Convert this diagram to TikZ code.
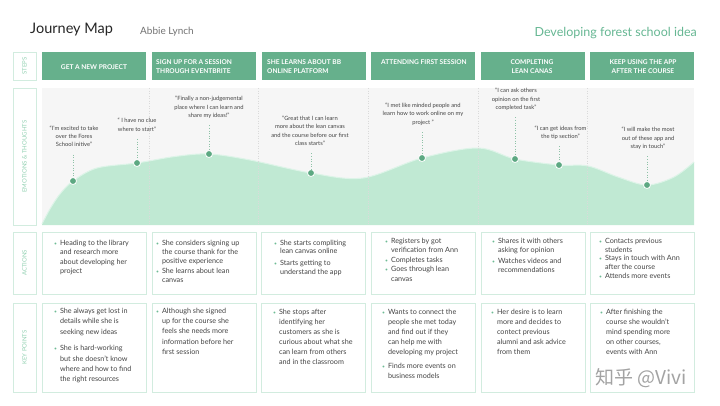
\documentclass[tikz,border=0pt]{standalone}
\usepackage{fontspec}
\setmainfont{Lato}
\newfontfamily\cjk{Noto Sans CJK SC}
\usepackage{graphicx}
\definecolor{stepg}{HTML}{66B08C}
\definecolor{panel}{HTML}{F6F6F6}
\definecolor{crvfill}{HTML}{C0E9D3}
\definecolor{crvline}{HTML}{DDF4E8}
\definecolor{dotc}{HTML}{5DA882}
\definecolor{brd}{HTML}{D2ECDF}
\definecolor{lbltxt}{HTML}{92D1B2}
\definecolor{txt}{HTML}{444444}
\definecolor{bulc}{HTML}{6DBB94}
\definecolor{subc}{HTML}{66B793}
\definecolor{divc}{HTML}{DADADA}
\newcommand\bl{\textcolor{bulc}{\fontsize{5}{5}\selectfont\textbullet}}
\newcommand\bt[1]{\begin{tabular}[t]{@{}l@{\hspace{3pt}}l@{}}#1\end{tabular}}
\tikzset{
  lblbox/.style={draw=brd, line width=0.6pt, fill=white, minimum width=23pt, inner sep=0},
  lbltext/.style={rotate=90, text=lbltxt, font=\fontsize{6}{7}\selectfont, inner sep=0},
  stepbox/.style={fill=stepg, minimum width=104pt, minimum height=28pt, inner sep=0},
  steptext/.style={text=white, font=\fontsize{6.6}{9}\selectfont\bfseries, inner sep=0},
  cellbox/.style={draw=brd, line width=0.6pt, fill=white, minimum width=104pt, inner sep=0},
  celltext/.style={anchor=base west, inner sep=0, text=txt, font=\fontsize{7.2}{#1}\selectfont},
  quote/.style={anchor=base, inner sep=0, text=txt, font=\fontsize{5.8}{8.4}\selectfont},
  emodot/.style={circle, fill=dotc, draw=white, line width=0.8pt, minimum size=7pt, inner sep=0},
  conn/.style={draw=dotc!70, dotted, line width=0.6pt, shorten <=5pt},
}
\begin{document}
\begin{tikzpicture}[x=1pt,y=-1pt]
\useasboundingbox (0,0) rectangle (720,405);
\fill[white] (0,0) rectangle (720,405);

% titles
\node[anchor=base west, inner sep=0, text=black!85, font=\fontsize{14.5}{16}\selectfont] (title) at (30,33) {Journey Map};
\node[anchor=base west, inner sep=0, text=black!55, font=\fontsize{10}{12}\selectfont] (author) at (140,34) {Abbie Lynch};
\node[anchor=base east, inner sep=0, text=subc, font=\fontsize{12.5}{14}\selectfont] (sub) at (697,36.5) {Developing forest school idea};

% row labels
\node[lblbox, minimum height=28pt] (Ls) at (24.5,66) {};
\node[lbltext] (Lst) at (Ls.center) {STEPS};
\node[lblbox, minimum height=137pt] (Le) at (24.5,156.5) {};
\node[lbltext] (Let) at (Le.center) {EMOTIONS \& THOUGHTS};
\node[lblbox, minimum height=62pt] (La) at (24.5,263) {};
\node[lbltext] (Lat) at (La.center) {ACTIONS};
\node[lblbox, minimum height=89pt] (Lk) at (24.5,347.5) {};
\node[lbltext] (Lkt) at (Lk.center) {KEY POINTS};

% steps
\node[stepbox] (s1) at (94,66) {};
\node[stepbox] (s2) at (204,66) {};
\node[stepbox] (s3) at (313.5,66) {};
\node[stepbox] (s4) at (423,66) {};
\node[stepbox] (s5) at (533,66) {};
\node[stepbox] (s6) at (642,66) {};
\node[steptext, anchor=base] (st1) at (94,69.5) {GET A NEW PROJECT};
\node[steptext, anchor=base west, align=left] (st2) at (156,64) {\begin{tabular}[t]{@{}l@{}}SIGN UP FOR A SESSION\\THROUGH EVENTBRITE\end{tabular}};
\node[steptext, anchor=base west, align=left] (st3) at (267,64) {\begin{tabular}[t]{@{}l@{}}SHE LEARNS ABOUT BB\\ONLINE PLATFORM\end{tabular}};
\node[steptext, anchor=base west] (st4) at (381,64) {ATTENDING FIRST SESSION};
\node[steptext, anchor=base] (st5) at (532,64) {\begin{tabular}[t]{@{}c@{}}COMPLETING\\LEAN CANAS\end{tabular}};
\node[steptext, anchor=base] (st6) at (643,64) {\begin{tabular}[t]{@{}c@{}}KEEP USING THE APP\\AFTER THE COURSE\end{tabular}};

% emotions panel
\fill[panel] (42,88) rectangle (694,225);
\coordinate (d1c) at (73,181);
\coordinate (d2c) at (137,163);
\coordinate (d3c) at (209,154);
\coordinate (d4c) at (311,173);
\coordinate (d5c) at (422,158);
\coordinate (d6c) at (515,159);
\coordinate (d7c) at (559,165);
\coordinate (d8c) at (647,185);
\fill[crvfill] (42,225) -- plot[smooth, tension=0.55] coordinates {(42,224) (50,209) (60,194) (d1c) (97,168) (d2c) (175,156.5) (d3c) (250,160) (d4c) (363,178) (d5c) (478,148) (d6c) (d7c) (588,166) (618,177) (d8c) (674,177) (694,162)} -- (694,225) -- cycle;
\draw[crvline, line width=1pt] plot[smooth, tension=0.55] coordinates {(42,224) (50,209) (60,194) (d1c) (97,168) (d2c) (175,156.5) (d3c) (250,160) (d4c) (363,178) (d5c) (478,148) (d6c) (d7c) (588,166) (618,177) (d8c) (674,177) (694,162)};
\foreach \x in {149,258.5,368.5,478,587.5} \draw[divc, dotted, line width=0.5pt] (\x,88) -- (\x,225);

\node[emodot] (d1) at (d1c) {};
\node[emodot] (d2) at (d2c) {};
\node[emodot] (d3) at (d3c) {};
\node[emodot] (d4) at (d4c) {};
\node[emodot] (d5) at (d5c) {};
\node[emodot] (d6) at (d6c) {};
\node[emodot] (d7) at (d7c) {};
\node[emodot] (d8) at (d8c) {};

\node[quote] (q1) at (74,130.1) {\begin{tabular}[t]{@{}c@{}}“I'm excited to take\\over the Fores\\School initive”\end{tabular}};
\node[quote] (q2) at (137,122.8) {\begin{tabular}[t]{@{}c@{}}“ I have no clue\\where to start”\end{tabular}};
\node[quote] (q3) at (209,100.8) {\begin{tabular}[t]{@{}c@{}}“Finally a non-judgemental\\place where I can learn and\\share my ideas!”\end{tabular}};
\node[quote] (q4) at (310,120.5) {\begin{tabular}[t]{@{}c@{}}“Great that I can learn\\more about the lean canvas\\and the course before our first\\class starts”\end{tabular}};
\node[quote] (q5) at (423,107.5) {\begin{tabular}[t]{@{}c@{}}“I met like minded people and\\learn how to work online on my\\project ”\end{tabular}};
\node[quote] (q6) at (516,92.8) {\begin{tabular}[t]{@{}c@{}}“I can ask others\\opinion on the first\\completed task”\end{tabular}};
\node[quote] (q7) at (560.5,130.1) {\begin{tabular}[t]{@{}c@{}}“I can get ideas from\\the tip section”\end{tabular}};
\node[quote] (q8) at (648,131.8) {\begin{tabular}[t]{@{}c@{}}“I will make the most\\out of these app and\\stay in touch”\end{tabular}};

\draw[conn] (q1.south -| d1) -- (d1);
\draw[conn] (q2.south -| d2) -- (d2);
\draw[conn] (q3.south -| d3) -- (d3);
\draw[conn] (q4.south -| d4) -- (d4);
\draw[conn] (q5.south -| d5) -- (d5);
\draw[conn] (q6.south -| d6) -- (d6);
\draw[conn] (q7.south -| d7) -- (d7);
\draw[conn] (q8.south -| d8) -- (d8);

% actions
\node[cellbox, minimum height=62pt] (a1) at (94,263) {};
\node[cellbox, minimum height=62pt] (a2) at (204,263) {};
\node[cellbox, minimum height=62pt] (a3) at (313.5,263) {};
\node[cellbox, minimum height=62pt] (a4) at (423,263) {};
\node[cellbox, minimum height=62pt] (a5) at (533,263) {};
\node[cellbox, minimum height=62pt] (a6) at (642,263) {};
\node[celltext=9.5] (ta1) at (54,245) {\bt{\bl & Heading to the library\\ & and research more\\ & about developing her\\ & project}};
\node[celltext=9.4] (ta2) at (156,245) {\bt{\bl & She considers signing up\\ & the course thank for the\\ & positive experience\\ \bl & She learns about lean\\ & canvas}};
\node[celltext=8.7] (ta3) at (274,245) {\bt{\bl & She starts compliting\\ & lean canvas online\\[3.3pt] \bl & Starts getting to\\ & understand the app}};
\node[celltext=9.4] (ta4) at (385,243.5) {\bt{\bl & Registers by got\\ & verification from Ann\\ \bl & Completes tasks\\ \bl & Goes through lean\\ & canvas}};
\node[celltext=8.5] (ta5) at (492,243.5) {\bt{\bl & Shares it with others\\ & asking for opinion\\[3.3pt] \bl & Watches videos and\\ & recommendations}};
\node[celltext=8.7] (ta6) at (599,243.5) {\bt{\bl & Contacts previous\\ & students\\ \bl & Stays in touch with Ann\\ & after the course\\ \bl & Attends more events}};

% key points
\node[cellbox, minimum height=89pt] (k1) at (94,347.5) {};
\node[cellbox, minimum height=89pt] (k2) at (204,347.5) {};
\node[cellbox, minimum height=89pt] (k3) at (313.5,347.5) {};
\node[cellbox, minimum height=89pt] (k4) at (423,347.5) {};
\node[cellbox, minimum height=89pt] (k5) at (533,347.5) {};
\node[cellbox, minimum height=89pt] (k6) at (642,347.5) {};
\node[celltext=10.3] (tk1) at (54,313.5) {\bt{\bl & She always get lost in\\ & details while she is\\ & seeking new ideas\\[6.4pt] \bl & She is hard-working\\ & but she doesn't know\\ & where and how to find\\ & the right resources}};
\node[celltext=10.2] (tk2) at (156,313.5) {\bt{\bl & Although she signed\\ & up for the course she\\ & feels she needs more\\ & information before her\\ & first session}};
\node[celltext=10.1] (tk3) at (273,314) {\bt{\bl & She stops after\\ & identifying her\\ & customers as she is\\ & curious about what she\\ & can learn from others\\ & and in the classroom}};
\node[celltext=10.1] (tk4) at (382,314) {\bt{\bl & Wants to connect the\\ & people she met today\\ & and find out if they\\ & can help me with\\ & developing my project\\[4.3pt] \bl & Finds more events on\\ & business models}};
\node[celltext=10.1] (tk5) at (491,314) {\bt{\bl & Her desire is to learn\\ & more and decides to\\ & contect previous\\ & alumni and ask advice\\ & from them}};
\node[celltext=10.1] (tk6) at (600,314) {\bt{\bl & After finishing the\\ & course she wouldn't\\ & mind spending more\\ & on other courses,\\ & events with Ann}};

% watermark
\node[anchor=west, inner sep=0, text=black!45, opacity=0.8, font=\cjk\fontsize{19}{20}\selectfont] (wm) at (595,378) {知乎 @Vivi};
\end{tikzpicture}
\end{document}
